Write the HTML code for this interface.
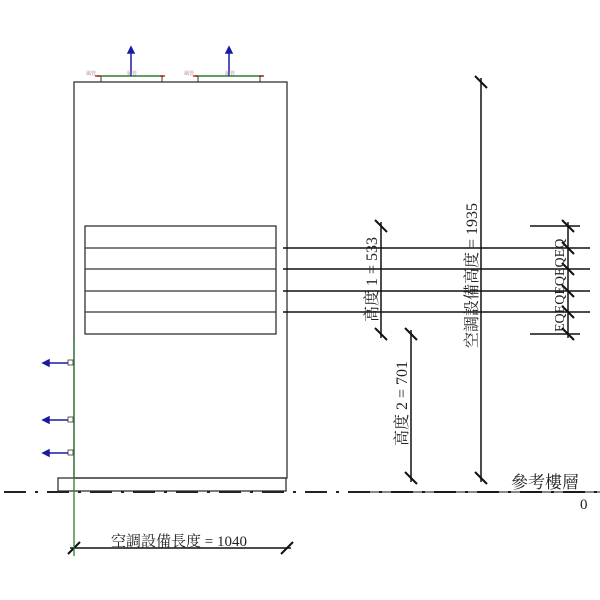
<!DOCTYPE html>
<html><head><style>body{margin:0;background:#fff}svg{display:block}</style></head><body>
<svg width="600" height="600" xmlns="http://www.w3.org/2000/svg" font-family="Liberation Serif, Noto Serif CJK SC, serif">
<rect width="600" height="600" fill="#fff"/>
<g stroke="#333" stroke-width="1.3" fill="none">
<rect x="74" y="82" width="213" height="396"/>
<rect x="58" y="478" width="228" height="13"/>
<rect x="85" y="226" width="191" height="108"/>
<line x1="85" y1="248" x2="276" y2="248"/><line x1="85" y1="269" x2="276" y2="269"/>
<line x1="85" y1="291" x2="276" y2="291"/><line x1="85" y1="312" x2="276" y2="312"/>
</g>
<line x1="4" y1="492" x2="600" y2="492" stroke="#222" stroke-width="2" stroke-dasharray="22,9,3,9"/>
<g stroke="#111" stroke-width="1.5">
<line x1="283" y1="248" x2="590" y2="248"/><line x1="283" y1="269" x2="590" y2="269"/>
<line x1="283" y1="291" x2="590" y2="291"/><line x1="283" y1="312" x2="590" y2="312"/>
<line x1="530" y1="226" x2="580" y2="226"/><line x1="530" y1="334" x2="580" y2="334"/>
<line x1="381" y1="222" x2="381" y2="338"/>
<line x1="481" y1="78" x2="481" y2="482"/>
<line x1="411" y1="330" x2="411" y2="482"/>
<line x1="568" y1="222" x2="568" y2="338"/>
<line x1="70" y1="548" x2="291" y2="548"/>
<line x1="370" y1="492" x2="600" y2="492" stroke-width="1"/>
</g>
<g stroke="#111" stroke-width="2">
<line x1="375" y1="220" x2="387" y2="232"/><line x1="375" y1="328" x2="387" y2="340"/>
<line x1="475" y1="76" x2="487" y2="88"/><line x1="475" y1="472" x2="487" y2="484"/>
<line x1="405" y1="328" x2="417" y2="340"/><line x1="405" y1="472" x2="417" y2="484"/>
<line x1="562" y1="220" x2="574" y2="232"/><line x1="562" y1="242" x2="574" y2="254"/>
<line x1="562" y1="263" x2="574" y2="275"/><line x1="562" y1="285" x2="574" y2="297"/>
<line x1="562" y1="306" x2="574" y2="318"/><line x1="562" y1="328" x2="574" y2="340"/>
<line x1="68" y1="554" x2="80" y2="542"/><line x1="281" y1="554" x2="293" y2="542"/>
</g>
<line x1="74" y1="340" x2="74" y2="556" stroke="#2e7d32" stroke-width="1.3"/>
<g stroke="#2e7d32" stroke-width="1.5"><line x1="97" y1="76" x2="163" y2="76"/><line x1="195" y1="76" x2="263" y2="76"/></g>
<g stroke="#c62828" stroke-width="1.5"><line x1="95" y1="76" x2="100" y2="76"/><line x1="160" y1="76" x2="165" y2="76"/><line x1="193" y1="76" x2="198" y2="76"/><line x1="259" y1="76" x2="264" y2="76"/></g>
<g stroke="#333" stroke-width="1"><line x1="101" y1="76" x2="101" y2="82"/><line x1="162" y1="76" x2="162" y2="82"/><line x1="198" y1="76" x2="198" y2="82"/><line x1="260" y1="76" x2="260" y2="82"/></g>
<g stroke="#1a1aa0" stroke-width="1.5" fill="#1a1aa0">
<line x1="131" y1="76" x2="131" y2="52"/><polygon points="128,53 134,53 131,47"/>
<line x1="229" y1="76" x2="229" y2="52"/><polygon points="226,53 232,53 229,47"/>
<line x1="68" y1="363" x2="48" y2="363"/><polygon points="49,360 49,366 43,363"/>
<line x1="68" y1="420" x2="48" y2="420"/><polygon points="49,417 49,423 43,420"/>
<line x1="68" y1="453" x2="48" y2="453"/><polygon points="49,450 49,456 43,453"/>
</g>
<g stroke="#333" stroke-width="0.8" fill="#fff"><rect x="68" y="360" width="5" height="5"/><rect x="68" y="417" width="5" height="5"/><rect x="68" y="450" width="5" height="5"/></g>
<g font-size="5" fill="#a07090">
<text x="86" y="75">風管</text><text x="127" y="75">風管</text><text x="184" y="75">風管</text><text x="225" y="75">風管</text>
</g>
<g fill="#222" font-size="16">
<text transform="translate(377,322) rotate(-90)">高度 1 = 533</text>
<text transform="translate(477,348) rotate(-90)">空調設備高度 = 1935</text>
<text transform="translate(407,446) rotate(-90)">高度 2 = 701</text>
<text transform="translate(564,332) rotate(-90)" font-size="14">EQEQEQEQEQ</text>
<text x="111" y="546" font-size="15">空調設備長度 = 1040</text>
<text x="511" y="488" font-size="17">參考樓層</text>
<text x="580" y="509" font-size="15">0</text>
</g>
</svg>
</body></html>
